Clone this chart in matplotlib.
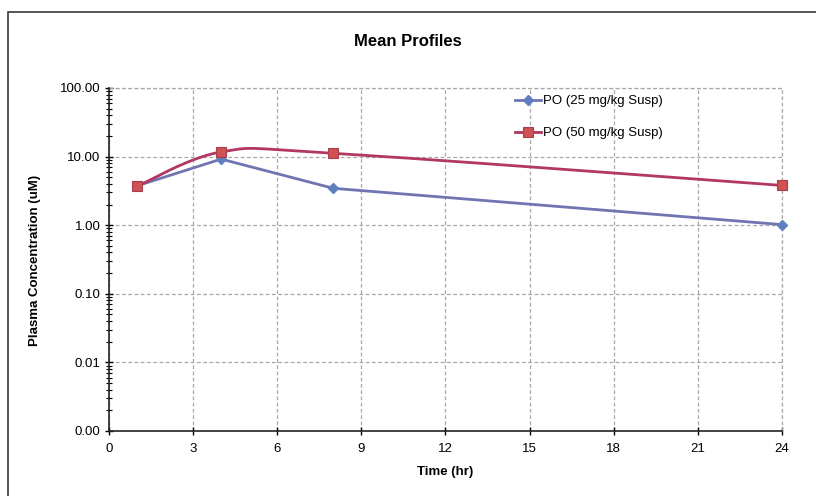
import numpy as np
import matplotlib
matplotlib.use("Agg")
import matplotlib.pyplot as plt
from matplotlib.ticker import FixedLocator, FuncFormatter, LogLocator, NullFormatter
from matplotlib.patches import Rectangle

plt.rcParams['font.family'] = ['Liberation Sans', 'DejaVu Sans']

time_hr = [1, 4, 8, 24]
po25 = [3.75, 9.2, 3.45, 1.02]
po50 = [3.7, 11.7, 11.2, 3.8]
series_names = ["PO (25 mg/kg Susp)", "PO (50 mg/kg Susp)"]
x_ticks = [0, 3, 6, 9, 12, 15, 18, 21, 24]
y_ticks = [0.001, 0.01, 0.1, 1, 10, 100]


def excel_smooth(xs, ys, n=60):
    """Catmull-Rom style Bezier smoothing in (x, log10 y) space."""
    P = np.column_stack([np.asarray(xs, float), np.log10(np.asarray(ys, float))])
    Pe = np.vstack([P[0], P, P[-1]])
    out = []
    t = np.linspace(0, 1, n)[:, None]
    for i in range(len(P) - 1):
        p0, p1, p2, p3 = Pe[i], Pe[i + 1], Pe[i + 2], Pe[i + 3]
        c1 = p1 + (p2 - p0) / 6
        c2 = p2 - (p3 - p1) / 6
        seg = ((1 - t) ** 3) * p1 + 3 * ((1 - t) ** 2) * t * c1 + 3 * (1 - t) * t ** 2 * c2 + t ** 3 * p2
        out.append(seg if i == 0 else seg[1:])
    out = np.vstack(out)
    return out[:, 0], 10 ** out[:, 1]


fig = plt.figure(figsize=(8.16, 4.96), dpi=100)
fig.patch.set_facecolor('white')

# outer frame of chart area
fig.patches.append(Rectangle((8 / 816, -0.1), 1.2, 1 - 12 / 496 + 0.1, transform=fig.transFigure,
                             fill=False, edgecolor='#3a3a3a', linewidth=1.2))

ax = fig.add_axes([109 / 816, 1 - 431 / 496, 673 / 816, 343 / 496])
ax.set_yscale('log')
ax.set_xlim(0, 24)
ax.set_ylim(0.001, 100)

blue_line = '#7075B2'
blue_mark = '#5E7FC0'
red_line = '#B23762'
red_mark = '#D05252'

# PO 25 (straight segments)
ax.plot(time_hr, po25, color=blue_line, linewidth=2.0, zorder=3, clip_on=False)
ax.plot(time_hr, po25, linestyle='none', marker='D', markersize=5.5, color=blue_mark,
        markeredgecolor=blue_mark, zorder=4, clip_on=False)
# PO 50 (smoothed)
sx, sy = excel_smooth(time_hr, po50)
ax.plot(sx, sy, color=red_line, linewidth=2.0, zorder=3, clip_on=False)
ax.plot(time_hr, po50, linestyle='none', marker='s', markersize=7, color=red_mark,
        markeredgecolor='#A83F50', markeredgewidth=0.8, zorder=4, clip_on=False)

# legend handles
h1, = ax.plot([], [], color=blue_line, linewidth=2.0, marker='D', markersize=5.5,
              markerfacecolor=blue_mark, markeredgecolor=blue_mark)
h2, = ax.plot([], [], color=red_line, linewidth=2.0, marker='s', markersize=7,
              markerfacecolor=red_mark, markeredgecolor='#A83F50', markeredgewidth=0.8)
leg = fig.legend([h1, h2], series_names, loc='upper left', bbox_to_anchor=(515 / 816, 1 - 95 / 496),
                 frameon=False, fontsize=9.5, handlelength=2.0, handletextpad=0.15,
                 labelspacing=1.5, borderpad=0, borderaxespad=0)

ax.xaxis.set_major_locator(FixedLocator(x_ticks))
ax.yaxis.set_major_locator(FixedLocator(y_ticks))
ax.yaxis.set_major_formatter(FuncFormatter(lambda v, p: f"{v:.2f}"))
ax.yaxis.set_minor_locator(LogLocator(base=10, subs=np.arange(2, 10), numticks=20))
ax.yaxis.set_minor_formatter(NullFormatter())
ax.xaxis.set_minor_locator(FixedLocator([]))

ax.tick_params(axis='both', which='major', direction='inout', length=6, width=1.0,
               labelsize=9.5, colors='black', pad=3)
ax.tick_params(axis='x', which='major', pad=6)
ax.tick_params(axis='y', which='minor', direction='inout', length=4, width=0.8)

ax.grid(True, which='major', color='#A8A8A8', linestyle=(0, (3, 2)), linewidth=0.9)
ax.set_axisbelow(True)

for s in ['top', 'right']:
    ax.spines[s].set_visible(False)
# dashed outline top and right like gridlines
ax.axhline(100, color='#A8A8A8', linestyle=(0, (3, 2)), linewidth=0.9, clip_on=False, zorder=1)
ax.axvline(24, color='#A8A8A8', linestyle=(0, (3, 2)), linewidth=0.9, clip_on=False, zorder=1)
for s in ['left', 'bottom']:
    ax.spines[s].set_linewidth(1.2)
    ax.spines[s].set_color('#222222')
    ax.spines[s].set_zorder(5)

fig.text(408 / 816, 1 - 42 / 496, "Mean Profiles", ha='center', va='center',
         fontsize=12, fontweight='bold')
fig.text(445 / 816, 1 - 472 / 496, "Time (hr)", ha='center', va='center',
         fontsize=9.5, fontweight='bold')
fig.text(35 / 816, 1 - 260 / 496, "Plasma Concentration (uM)", ha='center', va='center',
         rotation=90, fontsize=9.5, fontweight='bold')

fig.savefig("out.png", dpi=100, facecolor='white')
